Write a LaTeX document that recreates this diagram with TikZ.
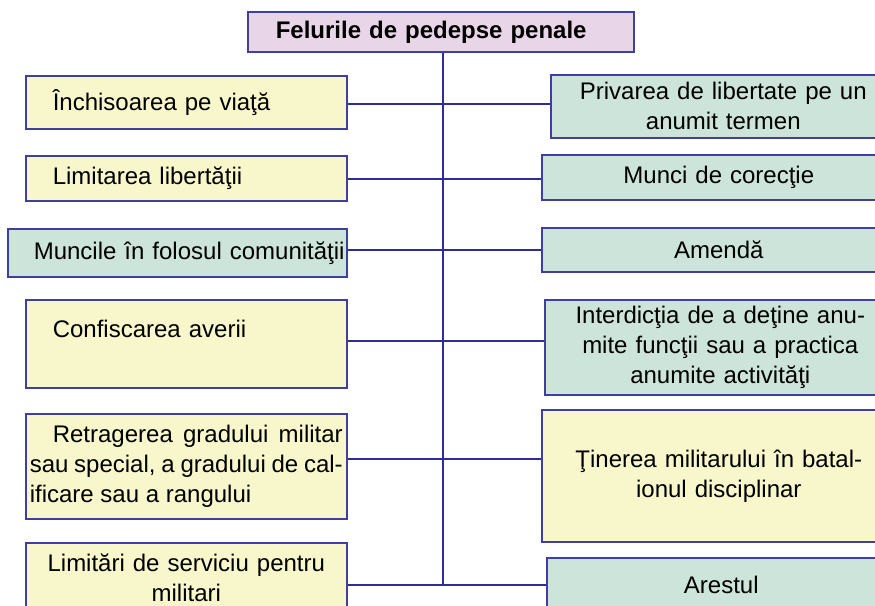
\documentclass[tikz,border=0pt]{standalone}
\usepackage{fontspec}
\setmainfont{Liberation Sans}
\usepackage{xcolor}
\definecolor{rim}{HTML}{3F3F9F}
\definecolor{wire}{HTML}{2D2D95}
\definecolor{straw}{HTML}{F8F6CB}
\definecolor{mint}{HTML}{CCE4DA}
\definecolor{lilac}{HTML}{E8D6E8}
\tikzset{
  pbox/.style={draw=rim, line width=1.6pt, anchor=north west, inner ysep=4pt,
               font=\fontsize{24}{30}\selectfont},
  lbox/.style={pbox, minimum width=321pt, inner xsep=27pt, text width=267pt, align=left},
  rbox/.style={pbox, inner xsep=4pt, text width=310pt, align=center},
  link/.style={draw=wire, line width=1.3pt}
}

\begin{document}
\begin{tikzpicture}[x=1pt,y=-1pt]
    \useasboundingbox (0,0) rectangle (875,605);
    \clip (0,0) rectangle (875,605);

    % title
    \node[pbox,fill=lilac,minimum height=40pt,inner xsep=28pt,text width=330pt,align=left,
          font=\fontsize{24}{30}\selectfont\bfseries] (title) at (247,11) {Felurile de pedepse penale};

    % left column
    \node[lbox,fill=straw,minimum height=53pt] (l1) at (25,75) {Închisoarea pe viaţă};
    \node[lbox,fill=straw,minimum height=45pt] (l2) at (25,155) {Limitarea libertăţii};
    \node[pbox,fill=mint,minimum height=48pt,inner xsep=2pt,text width=335pt,align=left] (l3) at (7,228)
          {\hspace*{24pt}Muncile în folosul comunităţii};
    \node[lbox,fill=straw,minimum height=88pt] (l4) at (25,299) {Confiscarea averii\\ ~};
    \node[pbox,fill=straw,minimum height=105pt,inner xsep=4pt,text width=313pt,align=justify] (l5) at (25,413)
          {\hspace*{23pt}Retragerea gradului militar\linebreak sau special, a gradului de cal-\linebreak ificare sau a rangului};
    \node[pbox,fill=straw,minimum height=70pt,minimum width=321pt,inner xsep=4pt,text width=313pt,align=center] (l6) at (25,542)
          {Limitări de serviciu pentru\\militari};

    % right column
    \node[rbox,fill=mint,minimum width=345pt,minimum height=63pt] (r1) at (550,74) {Privarea de libertate pe un\\anumit termen};
    \node[rbox,fill=mint,minimum width=354pt,minimum height=45pt] (r2) at (541,154) {Munci de corecţie};
    \node[rbox,fill=mint,minimum width=354pt,minimum height=44pt] (r3) at (541,227) {Amendă};
    \node[rbox,fill=mint,minimum width=351pt,minimum height=95pt] (r4) at (544,299)
          {Interdicţia de a deţine anu-\\mite funcţii sau a practica\\anumite activităţi};
    \node[rbox,fill=straw,minimum width=354pt,minimum height=132pt] (r5) at (541,409)
          {Ţinerea militarului în batal-\\ionul disciplinar};
    \node[rbox,fill=mint,minimum width=349pt,minimum height=54pt] (r6) at (546,557) {Arestul};

    % trunk and branches
    \foreach \i/\y in {1/104,2/179,3/250,4/341,5/459,6/585}
      \coordinate (t\i) at (443,\y);
    \draw[link] (title.south -| t6) -- (t6);
    \foreach \i in {1,...,6}
      \draw[link] (l\i.east |- t\i) -- (r\i.west |- t\i);
\end{tikzpicture}
\end{document}
